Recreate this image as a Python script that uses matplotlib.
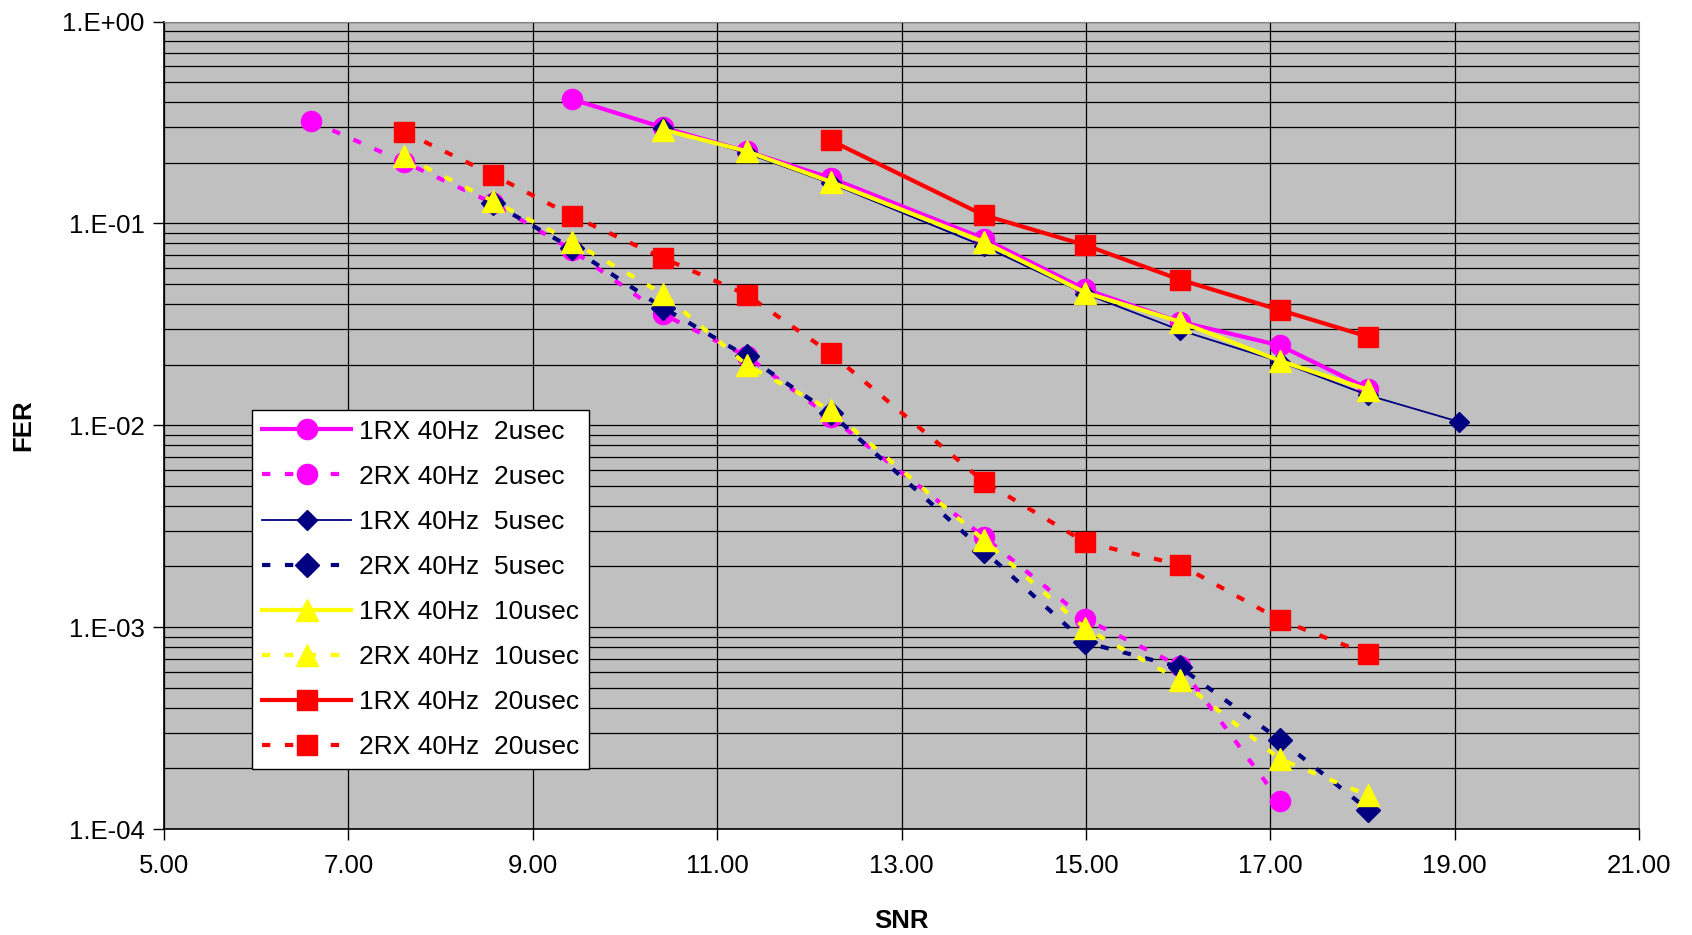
import math
import matplotlib
matplotlib.use("Agg")
import matplotlib.pyplot as plt
from matplotlib.ticker import FixedLocator, FuncFormatter, LogLocator, NullFormatter

plt.rcParams['font.family'] = ['Liberation Sans', 'DejaVu Sans']

# SNR / FER, one pair of lists per series
snr_1rx_2 = [9.43, 10.41, 11.32, 12.23, 13.89, 14.99, 16.02, 17.10, 18.06]
fer_1rx_2 = [0.412, 0.299, 0.228, 0.168, 0.0842, 0.0472, 0.0326, 0.0249, 0.0152]

snr_2rx_2 = [6.60, 7.60, 8.57, 9.43, 10.41, 11.32, 12.23, 13.89, 14.99, 16.02, 17.10]
fer_2rx_2 = [0.322, 0.202, 0.126, 0.0735, 0.0356, 0.0220, 0.0110, 0.00281, 0.00110, 0.000641, 0.000138]

snr_1rx_5 = [10.41, 11.32, 12.23, 13.89, 14.99, 16.02, 17.10, 18.06, 19.05]
fer_1rx_5 = [0.296, 0.223, 0.158, 0.0772, 0.0449, 0.0296, 0.0207, 0.0141, 0.0104]

snr_2rx_5 = [8.57, 9.43, 10.41, 11.32, 12.23, 13.89, 14.99, 16.02, 17.10, 18.06]
fer_2rx_5 = [0.126, 0.0753, 0.0383, 0.0220, 0.0115, 0.00240, 0.000842, 0.000634, 0.000278, 0.000125]

snr_1rx_10 = [10.41, 11.32, 12.23, 13.89, 14.99, 16.02, 17.10, 18.06]
fer_1rx_10 = [0.292, 0.228, 0.161, 0.0811, 0.0455, 0.0326, 0.0209, 0.0150]

snr_2rx_10 = [7.60, 8.57, 9.43, 10.41, 11.32, 12.23, 13.89, 14.99, 16.02, 17.10, 18.06]
fer_2rx_10 = [0.215, 0.129, 0.0811, 0.0449, 0.0199, 0.0119, 0.00271, 0.000988, 0.000547, 0.000223, 0.000147]

snr_1rx_20 = [12.23, 13.89, 14.99, 16.02, 17.10, 18.06]
fer_1rx_20 = [0.258, 0.110, 0.0782, 0.0527, 0.0373, 0.0275]

snr_2rx_20 = [7.60, 8.57, 9.43, 10.41, 11.32, 12.23, 13.89, 14.99, 16.02, 17.10, 18.06]
fer_2rx_20 = [0.285, 0.174, 0.109, 0.0675, 0.0444, 0.0228, 0.00527, 0.00264, 0.00204, 0.00109, 0.000735]

x_ticks = [5, 7, 9, 11, 13, 15, 17, 19, 21]
y_ticks = [1e-4, 1e-3, 1e-2, 1e-1, 1e0]

fig = plt.figure(figsize=(16.92, 9.35), dpi=100)
ax = fig.add_axes([0.0969, 0.1132, 0.8719, 0.8637])
ax.set_facecolor('#C0C0C0')

dash = (2, 3.5)
ax.plot(snr_1rx_2, fer_1rx_2, color='#FF00FF', lw=3, marker='o', ms=14.5,
        label='1RX 40Hz  2usec')
ax.plot(snr_2rx_2, fer_2rx_2, color='#FF00FF', lw=3, ls=(0, dash), marker='o', ms=14.5,
        label='2RX 40Hz  2usec')
ax.plot(snr_1rx_5, fer_1rx_5, color='#000080', lw=1.3, marker='D', ms=10,
        label='1RX 40Hz  5usec')
ax.plot(snr_2rx_5, fer_2rx_5, color='#000080', lw=3, ls=(0, dash), marker='D', ms=12,
        label='2RX 40Hz  5usec')
ax.plot(snr_1rx_10, fer_1rx_10, color='#FFFF00', lw=3, marker='^', ms=16,
        label='1RX 40Hz  10usec')
ax.plot(snr_2rx_10, fer_2rx_10, color='#FFFF00', lw=3, ls=(0, dash), marker='^', ms=16,
        label='2RX 40Hz  10usec')
ax.plot(snr_1rx_20, fer_1rx_20, color='#FF0000', lw=3, marker='s', ms=14.5,
        label='1RX 40Hz  20usec')
ax.plot(snr_2rx_20, fer_2rx_20, color='#FF0000', lw=3, ls=(0, dash), marker='s', ms=14.5,
        label='2RX 40Hz  20usec')

ax.set_yscale('log')
ax.set_xlim(5, 21)
ax.set_ylim(1e-4, 1)
ax.xaxis.set_major_locator(FixedLocator(x_ticks))
ax.xaxis.set_major_formatter(FuncFormatter(lambda v, p: '%.2f' % v))
ax.yaxis.set_major_locator(FixedLocator(y_ticks))
ax.yaxis.set_major_formatter(FuncFormatter(lambda v, p: '1.E%+03d' % round(math.log10(v))))
ax.yaxis.set_minor_locator(LogLocator(base=10, subs=range(2, 10)))
ax.yaxis.set_minor_formatter(NullFormatter())

ax.grid(True, which='major', axis='both', color='black', lw=0.9)
ax.grid(True, which='minor', axis='y', color='black', lw=0.9)
ax.set_axisbelow(True)
ax.tick_params(which='major', direction='out', length=8, width=1, labelsize=18.5, pad=6)
ax.tick_params(axis='x', which='major', pad=10)
ax.tick_params(which='minor', length=0)
for s in ['top', 'right']:
    ax.spines[s].set_color('#808080')
for s in ['left', 'bottom']:
    ax.spines[s].set_linewidth(1.2)

ax.set_xlabel('SNR', fontsize=18.5, fontweight='bold', labelpad=22)
ax.set_ylabel('FER', fontsize=18.5, fontweight='bold', labelpad=19)

leg = ax.legend(loc='lower left', bbox_to_anchor=(0.06, 0.075), fontsize=19,
                handlelength=3.4, markerscale=1.0, frameon=True, fancybox=False,
                edgecolor='black', facecolor='white', framealpha=1,
                borderpad=0.35, labelspacing=0.8, handletextpad=0.3, borderaxespad=0)
leg.get_frame().set_linewidth(1)

fig.savefig('out.png', dpi=100)
